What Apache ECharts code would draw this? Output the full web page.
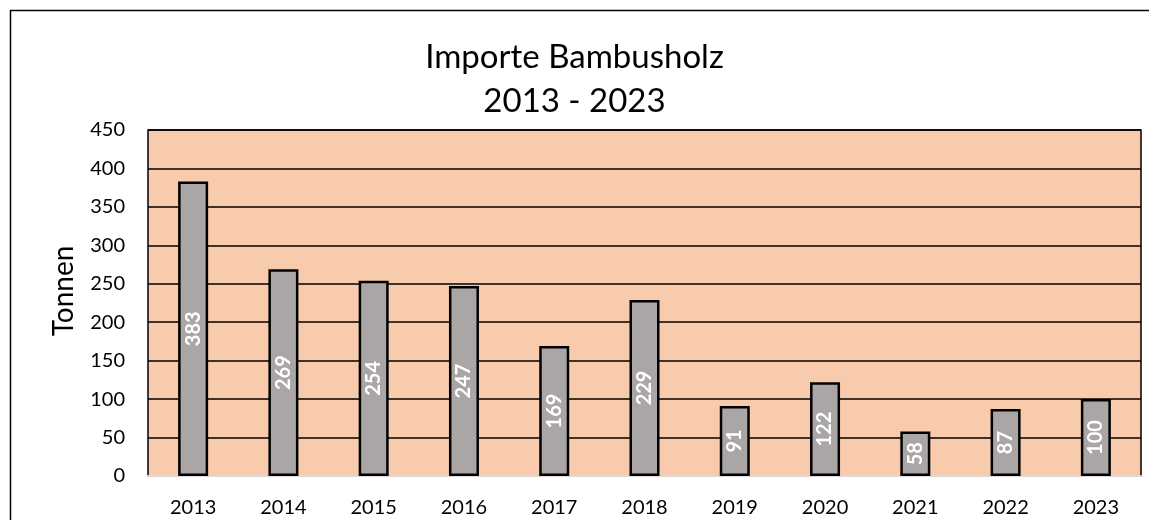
<!DOCTYPE html>
<html>
<head>
<meta charset="utf-8">
<script src="https://cdn.jsdelivr.net/npm/echarts@6/dist/echarts.min.js"></script>
<style>
  html, body { margin: 0; padding: 0; background: #fff; }
  #chart { width: 1149px; height: 520px; }
</style>
</head>
<body>
<div id="chart"></div>
<script>
// Daten
const years = ['2013', '2014', '2015', '2016', '2017', '2018', '2019', '2020', '2021', '2022', '2023'];
const tonnen = [383, 269, 254, 247, 169, 229, 91, 122, 58, 87, 100];

const chart = echarts.init(document.getElementById('chart'));

const option = {
  backgroundColor: '#fff',
  textStyle: { fontFamily: 'Lato' },
  title: {
    text: 'Importe Bambusholz\n2013 - 2023',
    left: 'center',
    top: 30,
    textStyle: { fontSize: 33, fontWeight: 'normal', color: '#000', lineHeight: 44 }
  },
  graphic: [{
    type: 'rect',
    shape: { x: 10.5, y: 10.5, width: 1160, height: 540 },
    style: { fill: 'none', stroke: '#000', lineWidth: 1.5 },
    silent: true
  }],
  grid: {
    left: 148, right: 8, top: 130, bottom: 44,
    show: true,
    backgroundColor: '#F8CBAD',
    borderColor: '#000',
    borderWidth: 1.5
  },
  xAxis: {
    type: 'category',
    data: years,
    axisTick: { show: false },
    axisLine: { lineStyle: { color: '#D9D9D9', width: 2 } },
    axisLabel: { color: '#000', fontSize: 20, margin: 22 }
  },
  yAxis: {
    type: 'value',
    min: 0, max: 450, interval: 50,
    name: 'Tonnen',
    nameLocation: 'middle',
    nameGap: 70,
    nameTextStyle: { fontSize: 28, color: '#000', padding: [0, 0, 0, 24] },
    axisLine: { show: false },
    axisTick: { show: false },
    axisLabel: { color: '#000', fontSize: 20, margin: 23 },
    splitLine: { lineStyle: { color: '#000', width: 1.5 } }
  },
  series: [{
    type: 'bar',
    data: tonnen,
    barWidth: 30,
    itemStyle: { color: '#AAA6A6', borderColor: '#000', borderWidth: 2.5 },
    label: {
      show: true,
      position: 'inside',
      rotate: 90,
      color: '#fff',
      fontWeight: 'bold',
      fontSize: 20
    }
  }]
};

chart.setOption(option);
</script>
</body>
</html>
